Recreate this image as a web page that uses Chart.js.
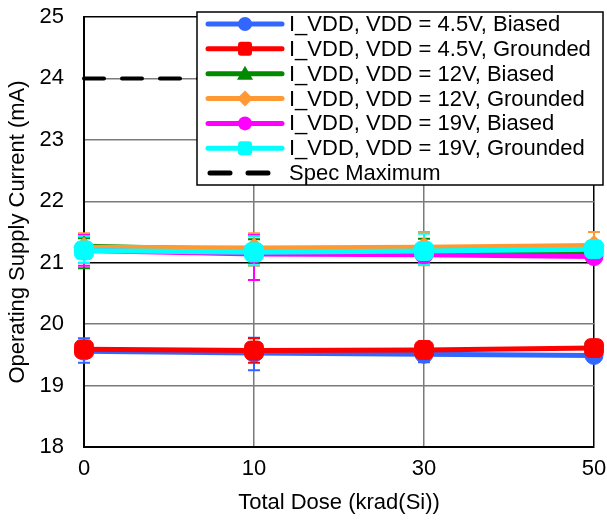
<!DOCTYPE html>
<html>
<head>
<meta charset="utf-8">
<script src="https://cdn.jsdelivr.net/npm/chart.js@4/dist/chart.umd.min.js"></script>
<style>
  html, body { margin: 0; padding: 0; background: #fff; }
  #wrap { width: 607px; height: 523px; }
</style>
</head>
<body>
<div id="wrap"><canvas id="idd"></canvas></div>
<script>
// Total dose steps (krad(Si))
const doses = ['0', '10', '30', '50'];

// Supply current (mA), mean with min/max
const vdd45Biased = [19.56, 19.53, 19.51, 19.49];
const vdd45BiasedLo = [19.37, 19.25, 19.38, 19.42];
const vdd45BiasedHi = [19.77, 19.78, 19.64, 19.56];

const vdd45Gnd = [19.59, 19.57, 19.58, 19.61];
const vdd45GndLo = [19.45, 19.37, 19.42, 19.52];
const vdd45GndHi = [19.72, 19.77, 19.72, 19.70];

const vdd12Biased = [21.27, 21.21, 21.20, 21.17];
const vdd12BiasedLo = [20.91, 21.00, 21.00, 21.08];
const vdd12BiasedHi = [21.40, 21.38, 21.39, 21.30];

const vdd12Gnd = [21.25, 21.24, 21.25, 21.28];
const vdd12GndLo = [21.00, 20.95, 20.96, 21.15];
const vdd12GndHi = [21.48, 21.48, 21.50, 21.50];

const vdd19Biased = [21.20, 21.14, 21.13, 21.10];
const vdd19BiasedLo = [20.95, 20.72, 21.00, 21.00];
const vdd19BiasedHi = [21.45, 21.45, 21.30, 21.20];

const vdd19Gnd = [21.20, 21.17, 21.19, 21.22];
const vdd19GndLo = [21.00, 20.96, 20.97, 21.10];
const vdd19GndHi = [21.43, 21.43, 21.47, 21.35];

const specMax = [24, 24, 24, 24];

const yTicks = [18, 19, 20, 21, 22, 23, 24, 25];

const FONT = 'Liberation Sans, Arial, sans-serif';
const FSIZE = 22;

function series(label, data, lo, hi, color, style, radius, order) {
  return {
    label: label,
    data: data,
    errLo: lo,
    errHi: hi,
    borderColor: color,
    backgroundColor: color,
    pointBackgroundColor: color,
    pointBorderColor: color,
    pointStyle: style,
    pointRadius: radius,
    pointBorderWidth: 1,
    borderWidth: 5,
    tension: 0,
    order: order
  };
}

const datasets = [
  series('I_VDD, VDD = 4.5V, Biased', vdd45Biased, vdd45BiasedLo, vdd45BiasedHi, '#3366ff', 'circle', 9, 6),
  series('I_VDD, VDD = 4.5V, Grounded', vdd45Gnd, vdd45GndLo, vdd45GndHi, '#ff0000', 'rectRounded', 11, 5),
  series('I_VDD, VDD = 12V, Biased', vdd12Biased, vdd12BiasedLo, vdd12BiasedHi, '#008a00', 'triangle', 10, 4),
  series('I_VDD, VDD = 12V, Grounded', vdd12Gnd, vdd12GndLo, vdd12GndHi, '#ff9933', 'rectRot', 10, 3),
  series('I_VDD, VDD = 19V, Biased', vdd19Biased, vdd19BiasedLo, vdd19BiasedHi, '#ff00ff', 'circle', 9, 2),
  series('I_VDD, VDD = 19V, Grounded', vdd19Gnd, vdd19GndLo, vdd19GndHi, '#00ffff', 'rectRounded', 11, 1),
  {
    label: 'Spec Maximum',
    data: specMax,
    borderColor: '#000',
    backgroundColor: '#000',
    borderWidth: 4,
    borderDash: [20, 18],
    borderCapStyle: 'round',
    pointRadius: 0,
    order: 7
  }
];

// min/max whiskers, painted under the lines and markers
const errorBars = {
  id: 'errorBars',
  beforeDatasetsDraw(chart) {
    const ctx = chart.ctx;
    const y = chart.scales.y;
    ctx.save();
    chart.data.datasets.forEach((ds, i) => {
      if (!ds.errLo) return;
      const meta = chart.getDatasetMeta(i);
      ctx.strokeStyle = ds.borderColor;
      ctx.lineWidth = 2;
      meta.data.forEach((pt, j) => {
        const yl = y.getPixelForValue(ds.errLo[j]);
        const yh = y.getPixelForValue(ds.errHi[j]);
        ctx.beginPath();
        ctx.moveTo(pt.x, yl); ctx.lineTo(pt.x, yh);
        ctx.moveTo(pt.x - 6, yl); ctx.lineTo(pt.x + 6, yl);
        ctx.moveTo(pt.x - 6, yh); ctx.lineTo(pt.x + 6, yh);
        ctx.stroke();
      });
    });
    ctx.restore();
  }
};

function marker(ctx, style, x, y, color) {
  ctx.fillStyle = color;
  ctx.beginPath();
  if (style === 'circle') {
    ctx.arc(x, y, 7, 0, Math.PI * 2);
  } else if (style === 'rectRounded') {
    ctx.roundRect(x - 7, y - 7, 14, 14, 3);
  } else if (style === 'triangle') {
    ctx.moveTo(x, y - 8); ctx.lineTo(x + 8, y + 6); ctx.lineTo(x - 8, y + 6); ctx.closePath();
  } else if (style === 'rectRot') {
    ctx.moveTo(x, y - 8); ctx.lineTo(x + 8, y); ctx.lineTo(x, y + 8); ctx.lineTo(x - 8, y); ctx.closePath();
  }
  ctx.fill();
}

// boxed legend sitting over the top right of the plot
const boxLegend = {
  id: 'boxLegend',
  afterDraw(chart) {
    const ctx = chart.ctx;
    const area = chart.chartArea;
    const right = area.right + 9;
    const left = right - 406;
    const top = area.top - 5;
    const height = 173;
    ctx.save();
    ctx.fillStyle = '#fff';
    ctx.fillRect(left, top, right - left, height);
    ctx.strokeStyle = '#000';
    ctx.lineWidth = 1.5;
    ctx.strokeRect(left, top, right - left, height);

    ctx.font = FSIZE + 'px ' + FONT;
    ctx.textBaseline = 'middle';
    chart.data.datasets.forEach((ds, i) => {
      const ry = top + 12 + i * 24.85;
      const x0 = left + 11, x1 = left + 85;
      ctx.strokeStyle = ds.borderColor;
      ctx.lineWidth = 5;
      ctx.lineCap = 'round';
      if (ds.borderDash) {
        ctx.setLineDash([20, 18]);
        ctx.beginPath(); ctx.moveTo(x0 + 2, ry); ctx.lineTo(x0 + 62, ry); ctx.stroke();
        ctx.setLineDash([]);
      } else {
        ctx.beginPath(); ctx.moveTo(x0, ry); ctx.lineTo(x1, ry); ctx.stroke();
        marker(ctx, ds.pointStyle, (x0 + x1) / 2, ry, ds.borderColor);
      }
      ctx.fillStyle = '#000';
      ctx.fillText(ds.label, left + 92, ry + 1);
    });
    ctx.restore();
  }
};

new Chart(document.getElementById('idd'), {
  type: 'line',
  data: { labels: doses, datasets: datasets },
  plugins: [errorBars, boxLegend],
  options: {
    responsive: true,
    maintainAspectRatio: false,
    animation: false,
    layout: { padding: { left: 4, right: 13, top: 17, bottom: 4 } },
    plugins: {
      legend: { display: false },
      tooltip: { enabled: false }
    },
    scales: {
      x: {
        offset: false,
        afterFit: (axis) => {
          axis.height = 72;
          axis.paddingLeft = 0;
          axis.paddingRight = 0;
        },
        grid: {
          offset: false,
          drawTicks: false,
          lineWidth: 1.5,
          color: (c) => (c.index === 3 ? '#000' : '#7a7a7a')
        },
        border: { display: true, color: '#000', width: 2 },
        ticks: { color: '#000', padding: 9, font: { family: FONT, size: FSIZE } },
        title: {
          display: true,
          text: 'Total Dose (krad(Si))',
          color: '#000',
          font: { family: FONT, size: FSIZE },
          padding: { top: 9, bottom: 3 }
        }
      },
      y: {
        min: 18,
        max: 25,
        afterBuildTicks: (axis) => { axis.ticks = yTicks.map(v => ({ value: v })); },
        afterFit: (axis) => {
          axis.width = 80;
          axis.paddingTop = 0;
          axis.paddingBottom = 0;
        },
        grid: {
          drawTicks: false,
          lineWidth: 1.5,
          color: (c) => (c.tick && (c.tick.value === 25 || c.tick.value === 21) ? '#000' : '#7a7a7a')
        },
        border: { display: true, color: '#000', width: 2 },
        ticks: { color: '#000', padding: 20, font: { family: FONT, size: FSIZE } },
        title: {
          display: true,
          text: 'Operating Supply Current (mA)',
          color: '#000',
          font: { family: FONT, size: FSIZE },
          padding: { top: 1, bottom: 9 }
        }
      }
    }
  }
});
</script>
</body>
</html>
